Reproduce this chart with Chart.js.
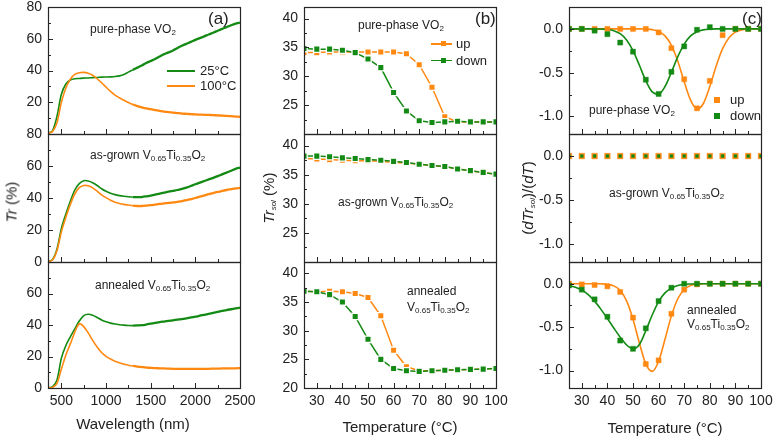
<!DOCTYPE html>
<html lang="en">
<head>
<meta charset="UTF-8">
<title>VO2 / V0.65Ti0.35O2 transmittance</title>
<script src="https://cdn.jsdelivr.net/npm/chart.js"></script>
<style>
  body { margin: 0; background: #fff; }
  .fig { position: relative; width: 774px; height: 437px; overflow: hidden;
         font-family: "Liberation Sans", Arial, sans-serif; color: #222; }
  #plots { position: absolute; left: 0; top: 0; width: 774px; height: 437px; }
  #plots canvas { position: absolute; }
  .txt { position: absolute; white-space: nowrap; font-size: 12px; line-height: 1; }
  .txt sub { font-size: 8px; vertical-align: -2px; line-height: 0; }
  .tag { font-size: 17px; }
  .leg { font-size: 13px; }
  .ttl { font-size: 15px; }
  .rot { transform: translate(-50%, -50%) rotate(-90deg); }
  .ctr { transform: translate(-50%, -50%); }
  .sw { position: absolute; }
</style>
</head>
<body>
<div class="fig">
  <div id="plots"></div>

  <!-- column (a) -->
  <div class="txt tag" style="left:208px;top:10px">(a)</div>
  <div class="txt" style="left:90px;top:23px">pure-phase VO<sub>2</sub></div>
  <div class="sw" style="left:167px;top:70px;width:28px;height:2px;background:#138a13"></div>
  <div class="txt leg" style="left:200px;top:64px">25°C</div>
  <div class="sw" style="left:167px;top:85px;width:28px;height:2px;background:#ff8811"></div>
  <div class="txt leg" style="left:200px;top:79px">100°C</div>
  <div class="txt" style="left:90px;top:149px">as-grown V<sub>0.65</sub>Ti<sub>0.35</sub>O<sub>2</sub></div>
  <div class="txt" style="left:95px;top:279px">annealed V<sub>0.65</sub>Ti<sub>0.35</sub>O<sub>2</sub></div>
  <div class="txt ttl rot" style="left:11px;top:202px"><i>Tr</i> (%)</div>
  <div class="txt ttl ctr" style="left:133px;top:423px">Wavelength (nm)</div>

  <!-- column (b) -->
  <div class="txt tag" style="left:475px;top:10px">(b)</div>
  <div class="txt" style="left:358px;top:19px">pure-phase VO<sub>2</sub></div>
  <div class="sw" style="left:431px;top:43px;width:21px;height:1.5px;background:#ff8811"></div>
  <div class="sw" style="left:441px;top:41px;width:5px;height:5px;background:#ff8811"></div>
  <div class="txt leg" style="left:456px;top:37px">up</div>
  <div class="sw" style="left:431px;top:59.5px;width:21px;height:1.5px;background:#138a13"></div>
  <div class="sw" style="left:441px;top:57.5px;width:5px;height:5px;background:#138a13"></div>
  <div class="txt leg" style="left:456px;top:53.5px">down</div>
  <div class="txt" style="left:338px;top:196px">as-grown V<sub>0.65</sub>Ti<sub>0.35</sub>O<sub>2</sub></div>
  <div class="txt" style="left:407px;top:285px">annealed</div>
  <div class="txt" style="left:407px;top:301px">V<sub>0.65</sub>Ti<sub>0.35</sub>O<sub>2</sub></div>
  <div class="txt ttl rot" style="left:268px;top:198px"><i>Tr<sub>sol</sub></i> (%)</div>
  <div class="txt ttl ctr" style="left:400px;top:426px">Temperature (°C)</div>

  <!-- column (c) -->
  <div class="txt tag" style="left:742px;top:10px">(c)</div>
  <div class="txt" style="left:589px;top:104px">pure-phase VO<sub>2</sub></div>
  <div class="sw" style="left:714px;top:96.5px;width:6px;height:6px;background:#ff8811"></div>
  <div class="txt leg" style="left:730px;top:93px">up</div>
  <div class="sw" style="left:714px;top:113px;width:6px;height:6px;background:#138a13"></div>
  <div class="txt leg" style="left:730px;top:109px">down</div>
  <div class="txt" style="left:609px;top:187px">as-grown V<sub>0.65</sub>Ti<sub>0.35</sub>O<sub>2</sub></div>
  <div class="txt" style="left:687px;top:304px">annealed</div>
  <div class="txt" style="left:687px;top:318px">V<sub>0.65</sub>Ti<sub>0.35</sub>O<sub>2</sub></div>
  <div class="txt ttl rot" style="left:527px;top:198px">(<i>dTr<sub>sol</sub></i>)/(<i>dT</i>)</div>
  <div class="txt ttl ctr" style="left:665px;top:427px">Temperature (°C)</div>
</div>

<script>
  // ---- data: spectra (a) ----
  const wavelength = [350, 400, 450, 500, 550, 600, 650, 700, 750, 800, 850, 900, 950, 1000, 1050, 1100,
    1150, 1200, 1250, 1300, 1350, 1400, 1450, 1500, 1550, 1600, 1650, 1700, 1750, 1800, 1850, 1900,
    1950, 2000, 2050, 2100, 2150, 2200, 2250, 2300, 2350, 2400, 2450, 2500];
  const pureTr25 = [0.5, 2, 11, 25, 31.5, 34, 34.8, 35, 35.2, 35.3, 35.5, 35.6, 35.8, 35.9, 36, 36.2,
    36.6, 37.5, 39, 40.4, 41.8, 43.2, 44.7, 46, 47.3, 48.8, 50.3, 51.4, 52.6, 54.2, 55.6, 56.8,
    58, 59.3, 60.4, 61.5, 62.7, 63.8, 65, 66.2, 67.3, 68.5, 69.5, 70.2];
  const pureTr100 = [0.3, 1.5, 7, 20, 29, 34.5, 37.5, 38.6, 38.8, 38.3, 37, 34.8, 32.3, 29.5, 26.8, 24.5,
    22.8, 21.3, 19.8, 18.6, 17.6, 16.8, 16.1, 15.6, 15.1, 14.6, 14.1, 13.8, 13.5, 13.2, 12.9, 12.7,
    12.5, 12.3, 12.2, 12.1, 12, 11.9, 11.7, 11.6, 11.4, 11.2, 11, 10.8];
  const grownTr25 = [0.3, 1.5, 8, 21, 30, 38, 45, 49, 50.8, 50.6, 49.5, 47.8, 45.8, 44.2, 43, 42.1,
    41.5, 41.1, 40.8, 40.6, 40.5, 40.6, 41, 41.5, 42.1, 42.8, 43.4, 44, 44.5, 45, 45.7, 46.5,
    47.5, 48.6, 49.6, 50.6, 51.6, 52.6, 53.7, 54.8, 55.9, 57, 58.2, 59];
  const grownTr100 = [0.2, 1.2, 7, 19, 28, 36, 42.5, 46.5, 47.8, 47.6, 46.3, 44.3, 42, 40.2, 38.6, 37.4,
    36.6, 36, 35.6, 35.2, 35, 35, 35.2, 35.5, 35.9, 36.3, 36.6, 36.9, 37.2, 37.6, 38, 38.6,
    39.3, 40, 40.8, 41.6, 42.4, 43.1, 43.8, 44.4, 45, 45.5, 46, 46.3];
  const annealTr25 = [0.2, 0.8, 5, 19, 27, 32.5, 37.5, 42.5, 46, 46.8, 46.2, 44.8, 43.2, 42, 41.2, 40.6,
    40.2, 39.9, 39.7, 39.6, 39.7, 39.9, 40.3, 40.8, 41.3, 41.8, 42.2, 42.6, 43, 43.4, 43.8, 44.2,
    44.8, 45.3, 45.9, 46.5, 47.1, 47.7, 48.3, 48.9, 49.5, 50, 50.5, 51];
  const annealTr100 = [0.1, 0.4, 3, 12, 21, 28, 35.5, 40.8, 39, 35, 30.2, 26, 22.5, 20.1, 18.4, 17,
    16, 15.1, 14.5, 14, 13.6, 13.3, 13, 12.8, 12.6, 12.5, 12.4, 12.3, 12.2, 12.2, 12.1, 12.1,
    12.1, 12.1, 12.1, 12.2, 12.2, 12.3, 12.3, 12.4, 12.4, 12.5, 12.5, 12.6];

  // ---- data: solar transmittance vs temperature (b) ----
  const temps = [25, 30, 35, 40, 45, 50, 55, 60, 65, 70, 75, 80, 85, 90, 95, 100];
  const pureUp = [34.1, 34.1, 34.2, 34.2, 34.2, 34.2, 34.2, 34.2, 33.9, 32.0, 28.1, 23.0, 22.1, 22.1, 22.1, 22.1];
  const pureDown = [34.8, 34.7, 34.7, 34.5, 34.1, 33.0, 31.5, 27.2, 24.0, 22.3, 22.0, 22.1, 22.2, 22.1, 22.1, 22.1];
  const grownUp = [37.8, 37.7, 37.6, 37.5, 37.4, 37.4, 37.3, 37.1, 37.0, 36.8, 36.6, 36.4, 36.0, 35.7, 35.4, 35.1];
  const grownDown = [38.2, 38.2, 38.1, 37.9, 37.8, 37.6, 37.5, 37.3, 37.1, 36.8, 36.6, 36.4, 36.0, 35.7, 35.4, 35.1];
  const annealUp = [36.9, 36.8, 36.9, 36.8, 36.5, 35.8, 32.6, 26.6, 23.7, 23.0, 23.0, 23.1, 23.2, 23.25, 23.3, 23.4];
  const annealDown = [36.9, 36.8, 36.3, 35.0, 32.5, 28.5, 25.0, 23.4, 23.0, 22.9, 23.0, 23.1, 23.2, 23.25, 23.3, 23.4];

  // ---- data: derivative dTr/dT (c) ----
  const pureDUp = [0, 0, 0, 0, 0, 0, 0, -0.04, -0.22, -0.575, -0.907, -0.594, -0.072, 0, 0, 0];
  const pureDDown = [0, 0, -0.02, -0.06, -0.156, -0.26, -0.58, -0.743, -0.49, -0.2, -0.01, 0.02, 0, 0, 0, 0];
  const grownDUp = [0, 0, 0, 0, 0, 0, 0, 0, 0, 0, 0, 0, 0, 0, 0, 0];
  const grownDDown = [0, 0, 0, 0, 0, 0, 0, 0, 0, 0, 0, 0, 0, 0, 0, 0];
  const annealDUp = [0, -0.008, -0.015, -0.03, -0.095, -0.39, -0.924, -0.882, -0.346, -0.068, -0.008, 0, 0, 0, 0, 0];
  const annealDDown = [-0.02, -0.068, -0.18, -0.38, -0.654, -0.749, -0.513, -0.2, -0.046, 0, 0, 0, 0, 0, 0, 0];

  // fitted curves (c)
  const fitTemps = [25, 27.5, 30, 32.5, 35, 37.5, 40, 42.5, 45, 47.5, 50, 52.5, 55, 57.5, 60, 62.5,
    65, 67.5, 70, 72.5, 75, 77.5, 80, 82.5, 85, 87.5, 90, 92.5, 95, 97.5, 100];
  const pureFitUp = [0, 0, 0, 0, 0, 0, 0, 0, 0, 0, 0, 0, -0.002, -0.008, -0.028, -0.080,
    -0.189, -0.370, -0.603, -0.814, -0.914, -0.852, -0.659, -0.423, -0.226, -0.100, -0.037, -0.011, -0.003, 0, 0];
  const pureFitDown = [0, 0, 0, 0, 0, -0.002, -0.006, -0.020, -0.055, -0.126, -0.247, -0.415, -0.592, -0.719, -0.745, -0.658,
    -0.495, -0.317, -0.173, -0.080, -0.032, -0.011, -0.003, 0, 0, 0, 0, 0, 0, 0, 0];
  const annealFitUp = [0, 0, 0, 0, 0, -0.001, -0.006, -0.025, -0.078, -0.198, -0.409, -0.683, -0.923, -1.009, -0.893, -0.639,
    -0.370, -0.173, -0.066, -0.020, -0.005, -0.001, 0, 0, 0, 0, 0, 0, 0, 0, 0];
  const annealFitDown = [-0.020, -0.040, -0.072, -0.125, -0.200, -0.295, -0.400, -0.510, -0.615, -0.705, -0.750, -0.700, -0.540, -0.360, -0.205, -0.105,
    -0.050, -0.020, -0.008, -0.003, 0, 0, 0, 0, 0, 0, 0, 0, 0, 0, 0];

  // tick labels
  const wlLabels = [500, 1000, 1500, 2000, 2500];
  const tempLabels = [30, 40, 50, 60, 70, 80, 90, 100];
  const trTopLabels = [20, 40, 60, 80];
  const trMidLabels = [0, 20, 40, 60, 80];
  const trBotLabels = [0, 20, 40, 60];
  const solLabels = [25, 30, 35, 40];
  const solBotLabels = [20, 25, 30, 35, 40];
  const dLabels = [-1, -0.5, 0];

  const GREEN = '#138a13';
  const ORANGE = '#ff8811';

  Chart.defaults.font.family = '"Liberation Sans", Arial, sans-serif';

  const pts = (xs, ys) => xs.map((x, i) => ({x: x, y: ys[i]}));

  // frame + inward ticks, Origin style
  const frameTicks = {
    id: 'frameTicks',
    afterDatasetsDraw(chart, args, o) {
      const {ctx, chartArea: a, scales: {x, y}} = chart;
      const major = (v, m) => Math.abs(v / m - Math.round(v / m)) < 1e-6;
      ctx.save();
      ctx.strokeStyle = '#262626';
      ctx.lineWidth = 1;
      ctx.beginPath();
      for (let v = o.x0; v < x.max - 1e-9; v += o.xStep) {
        if (v <= x.min) continue;
        const px = Math.round(x.getPixelForValue(v)) + 0.5;
        ctx.moveTo(px, a.bottom);
        ctx.lineTo(px, a.bottom - (major(v, o.xMajor) ? 5 : 3));
      }
      for (let v = o.y0; v < y.max - 1e-9; v += o.yStep) {
        if (v <= y.min + 1e-9) continue;
        const py = Math.round(y.getPixelForValue(v)) + 0.5;
        ctx.moveTo(a.left, py);
        ctx.lineTo(a.left + (major(v, o.yMajor) ? 5 : 3), py);
      }
      ctx.stroke();
      ctx.lineWidth = 1.2;
      ctx.strokeRect(Math.round(a.left) + 0.5, Math.round(a.top) + 0.5,
        Math.round(a.right - a.left), Math.round(a.bottom - a.top));
      ctx.restore();
    }
  };

  const MT = 12, MR = 22, ML = 46;
  const plots = document.getElementById('plots');
  const noPad = s => { s.paddingLeft = 0; s.paddingRight = 0; s.paddingTop = 0; s.paddingBottom = 0; };

  function addPanel(box, bottomRow, cfg) {
    const [l, t, r, b] = box;
    const MB = bottomRow ? 28 : 4;
    const cv = document.createElement('canvas');
    const w = r - l + ML + MR, h = b - t + MT + MB;
    cv.width = w; cv.height = h;
    cv.style.left = (l - ML) + 'px';
    cv.style.top = (t - MT) + 'px';
    cv.style.width = w + 'px';
    cv.style.height = h + 'px';
    plots.appendChild(cv);
    new Chart(cv, {
      type: 'line',
      data: {datasets: cfg.datasets},
      options: {
        responsive: false,
        animation: false,
        events: [],
        layout: {autoPadding: false, padding: {top: MT, right: MR, left: 0, bottom: 0}},
        plugins: {legend: {display: false}, tooltip: {enabled: false}, frameTicks: cfg.ticks},
        scales: {
          x: {
            type: 'linear', min: cfg.x[0], max: cfg.x[1],
            grid: {display: false, drawTicks: false}, border: {display: false},
            ticks: {display: bottomRow, autoSkip: false, maxRotation: 0, padding: 5, color: '#222',
              font: {size: 14}, callback: v => String(v)},
            afterBuildTicks: s => { s.ticks = cfg.xLabels.map(v => ({value: v})); },
            afterFit: s => { s.height = MB; noPad(s); }
          },
          y: {
            type: 'linear', min: cfg.y[0], max: cfg.y[1],
            grid: {display: false, drawTicks: false}, border: {display: false},
            ticks: {autoSkip: false, padding: 6, color: '#222', font: {size: 14}, callback: cfg.yFmt || (v => String(v))},
            afterBuildTicks: s => { s.ticks = cfg.yLabels.map(v => ({value: v})); },
            afterFit: s => { s.width = ML; noPad(s); }
          }
        }
      },
      plugins: [frameTicks]
    });
  }

  const rows = [[7, 134], [134, 262], [262, 388]];
  const colA = [48, 240], colB = [304, 496], colC = [569, 761];
  const boxOf = (col, row) => [col[0], rows[row][0], col[1], rows[row][1]];

  // (a) spectra; the measured traces get noisier (thicker) in the near infrared
  const specLine = (ys, c) => ({
    data: pts(wavelength, ys), borderColor: c, borderWidth: 1.6, pointRadius: 0, tension: 0.3,
    segment: {borderWidth: s => s.p0.parsed.x >= 1300 ? 2.3 : 1.6}
  });
  const aTicks = {x0: 500, xStep: 250, xMajor: 500, y0: 0, yStep: 10, yMajor: 20};
  [[pureTr25, pureTr100, trTopLabels], [grownTr25, grownTr100, trMidLabels], [annealTr25, annealTr100, trBotLabels]]
    .forEach(([g, o, yl], row) => {
      addPanel(boxOf(colA, row), row === 2, {
        x: [350, 2500], y: [0, 80], xLabels: wlLabels, yLabels: yl, ticks: aTicks,
        datasets: [specLine(o, ORANGE), specLine(g, GREEN)]
      });
    });

  // (b) solar transmittance
  const solLine = (ys, c) => ({
    data: pts(temps, ys), borderColor: c, borderWidth: 1.5,
    pointStyle: 'rect', pointRadius: 4.5, pointBackgroundColor: c,
    pointBorderColor: '#fff', pointBorderWidth: 1.3
  });
  const bTicks = {x0: 25, xStep: 5, xMajor: 10, y0: 20, yStep: 2.5, yMajor: 5};
  [[pureDown, pureUp, solLabels], [grownDown, grownUp, solLabels], [annealDown, annealUp, solBotLabels]]
    .forEach(([g, o, yl], row) => {
      addPanel(boxOf(colB, row), row === 2, {
        x: [25, 100], y: [20, 42], xLabels: tempLabels, yLabels: yl, ticks: bTicks,
        datasets: [solLine(g, GREEN), solLine(o, ORANGE)]
      });
    });

  // (c) derivative
  const dots = (ys, c, r) => ({
    data: pts(temps, ys), showLine: false, pointStyle: 'rect', pointRadius: r,
    pointBackgroundColor: c, pointBorderColor: c === GREEN ? 'rgba(19,138,19,0.4)' : 'rgba(255,136,17,0.4)',
    pointBorderWidth: 1
  });
  const fit = (ys, c) => ({data: pts(fitTemps, ys), borderColor: c, borderWidth: 1.6, pointRadius: 0, cubicInterpolationMode: 'monotone'});
  const cTicks = {x0: 25, xStep: 5, xMajor: 10, y0: -1.25, yStep: 0.25, yMajor: 0.5};
  const fmt1 = v => v.toFixed(1);
  addPanel(boxOf(colC, 0), false, {
    x: [25, 100], y: [-1.2, 0.25], xLabels: tempLabels, yLabels: dLabels, yFmt: fmt1, ticks: cTicks,
    datasets: [dots(pureDDown, GREEN, 3.6), dots(pureDUp, ORANGE, 3.6), fit(pureFitDown, GREEN), fit(pureFitUp, ORANGE)]
  });
  addPanel(boxOf(colC, 1), false, {
    x: [25, 100], y: [-1.2, 0.25], xLabels: tempLabels, yLabels: dLabels, yFmt: fmt1, ticks: cTicks,
    datasets: [dots(grownDDown, GREEN, 2), dots(grownDUp, ORANGE, 4)]
  });
  addPanel(boxOf(colC, 2), true, {
    x: [25, 100], y: [-1.2, 0.25], xLabels: tempLabels, yLabels: dLabels, yFmt: fmt1, ticks: cTicks,
    datasets: [dots(annealDDown, GREEN, 3.6), dots(annealDUp, ORANGE, 3.6), fit(annealFitDown, GREEN), fit(annealFitUp, ORANGE)]
  });
</script>
</body>
</html>
